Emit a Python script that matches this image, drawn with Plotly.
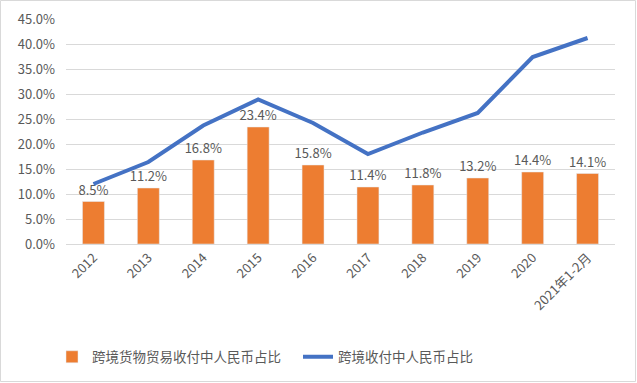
import plotly.graph_objects as go

categories = ["2012", "2013", "2014", "2015", "2016", "2017", "2018", "2019", "2020", "2021年1-2月"]
goods_share = [8.5, 11.2, 16.8, 23.4, 15.8, 11.4, 11.8, 13.2, 14.4, 14.1]
total_share = [12.0, 16.4, 23.7, 28.9, 24.2, 18.0, 22.3, 26.2, 37.4, 41.2]
y_ticks = [0, 5, 10, 15, 20, 25, 30, 35, 40, 45]
y_tick_labels = ["0.0%", "5.0%", "10.0%", "15.0%", "20.0%", "25.0%", "30.0%", "35.0%", "40.0%", "45.0%"]

FONT = "Noto Sans CJK SC, Liberation Sans, sans-serif"
GREY = "#595959"
W, H = 637, 383

fig = go.Figure()
fig.add_trace(go.Bar(
    x=categories, y=goods_share, name="跨境货物贸易收付中人民币占比",
    marker_color="#ED7D31",
    texttemplate="%{y:.1f}%", textposition="outside",
    textfont=dict(size=13, color=GREY, family=FONT),
    constraintext="none",
    cliponaxis=False,
))
fig.add_trace(go.Scatter(
    x=categories, y=total_share, name="跨境收付中人民币占比",
    mode="lines", line=dict(color="#4472C4", width=4),
))

fig.update_layout(
    width=W, height=H,
    margin=dict(l=0, r=0, t=0, b=0, pad=0),
    paper_bgcolor="white", plot_bgcolor="white",
    font=dict(family=FONT, color=GREY, size=13),
    bargap=0.6,
    showlegend=True,
    legend=dict(orientation="h", x=52 / W, xanchor="left", y=(H - 357) / H, yanchor="middle",
                font=dict(size=13.5, color=GREY, family=FONT), traceorder="normal",
                itemwidth=30, entrywidth=201, bgcolor="rgba(0,0,0,0)"),
    shapes=[dict(type="rect", xref="paper", yref="paper",
                 x0=0.5 / W, x1=1 - 1.5 / W, y0=1.5 / H, y1=1 - 0.5 / H,
                 line=dict(color="#D9D9D9", width=1), layer="above")],
)
fig.update_xaxes(domain=[66 / W, 615 / W], automargin=False,
                 tickangle=-45, showgrid=False, showline=True, linecolor="#D9D9D9",
                 tickfont=dict(size=13, color=GREY))
fig.update_yaxes(domain=[(H - 244) / H, (H - 19) / H], automargin=False,
                 range=[0, 45], tickvals=y_ticks, ticktext=y_tick_labels,
                 gridcolor="#D9D9D9", zeroline=False, ticklabelstandoff=10,
                 tickfont=dict(size=13, color=GREY))

fig.write_html("out.html", config={"displayModeBar": False},
               post_script="document.body.style.margin='0';document.body.style.overflow='hidden';")
